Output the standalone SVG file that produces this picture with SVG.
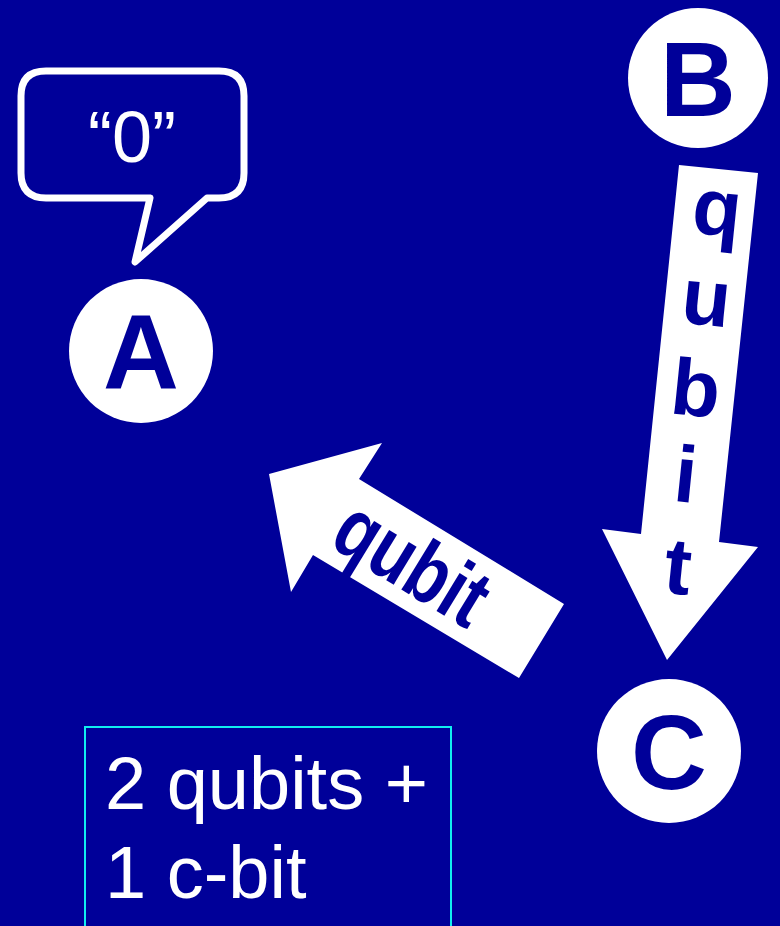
<svg xmlns="http://www.w3.org/2000/svg" width="780" height="926" viewBox="0 0 780 926">
<style>
.bg{fill:#000099}
.node{fill:#ffffff}
.lbl{font-family:"Liberation Sans",Arial,sans-serif;font-weight:bold;fill:#000099;text-anchor:middle}
.arrow{fill:#ffffff}
.wtxt{font-family:"Liberation Sans",Arial,sans-serif;fill:#ffffff}
</style>
<rect class="bg" x="0" y="0" width="780" height="926"/>
<g id="bubble">
<path d="M46 71 H219 Q244 71 244 96 V173 Q244 198 219 198 H207 L135 262 L150 198 H46 Q21 198 21 173 V96 Q21 71 46 71 Z" fill="none" stroke="#ffffff" stroke-width="7" stroke-linejoin="round"/>
<text class="wtxt" x="132" y="162" font-size="72" text-anchor="middle">“0”</text>
</g>
<g id="node-A">
<circle class="node" cx="141" cy="351" r="72"/>
<text class="lbl" x="141" y="389" font-size="105">A</text>
</g>
<g id="node-B">
<circle class="node" cx="698" cy="78" r="70"/>
<text class="lbl" x="698" y="116" font-size="105">B</text>
</g>
<g id="node-C">
<circle class="node" cx="669" cy="751" r="72"/>
<text class="lbl" x="669" y="789" font-size="105">C</text>
</g>
<g id="connectors">
<g id="arrow-B-C">
<polygon class="arrow" points="679,165 758,173 719,542 758,547 667,660 602,529 641,534"/>
<g class="lbl" font-size="80">
<text transform="translate(716,222) rotate(5.85)" y="13">q</text>
<text transform="translate(706,304) rotate(5.85)" y="21">u</text>
<text transform="translate(696,387) rotate(5.85)" y="29">b</text>
<text transform="translate(686,473) rotate(5.85)" y="29">i</text>
<text transform="translate(678,566) rotate(5.85)" y="28">t</text>
</g>
</g>
<g id="arrow-C-A">
<polygon class="arrow" points="269,474 382,443 359,479 564,604 519,678 313,555 291,592"/>
<text class="lbl" font-size="84" transform="translate(411,565) rotate(31.4) scale(0.8,1)" y="26">qubit</text>
</g>
</g>
<g id="note">
<rect x="85" y="727" width="366" height="220" fill="none" stroke="#11eeee" stroke-width="2"/>
<text class="wtxt" x="105" y="809" font-size="74">2 qubits +</text>
<text class="wtxt" x="105" y="898" font-size="74">1 c-bit</text>
</g>
</svg>
